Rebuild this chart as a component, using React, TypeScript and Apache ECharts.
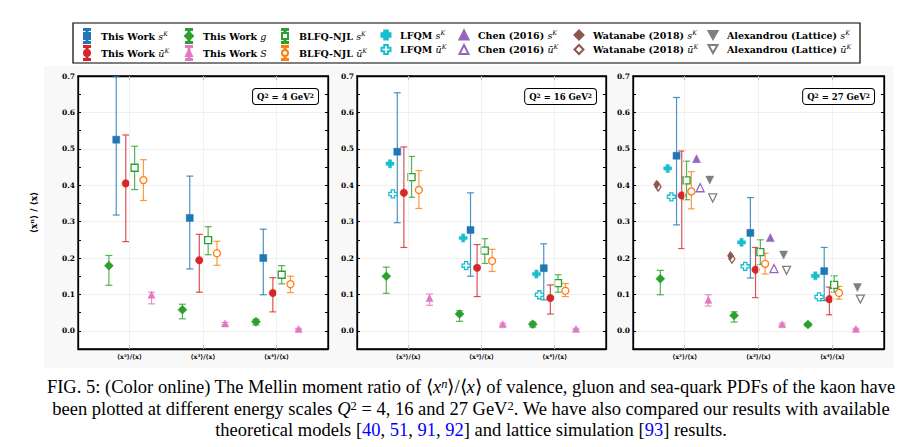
import React, { useEffect, useRef } from 'react';
import * as echarts from 'echarts';

// ---------- categories / labels ----------
const categories = ['⟨x²⟩/⟨x⟩', '⟨x³⟩/⟨x⟩', '⟨x⁴⟩/⟨x⟩'];
const panelQ2 = ['4', '16', '27'];
const yTickLabels = [0, 0.1, 0.2, 0.3, 0.4, 0.5, 0.6, 0.7];

// ---------- Panel 1 : Q^2 = 4 GeV^2 ----------
const p1_sK = [0.525, 0.31, 0.2];
const p1_sK_lo = [0.318, 0.17, 0.099];
const p1_sK_hi = [0.698, 0.425, 0.279];
const p1_uK = [0.405, 0.194, 0.104];
const p1_uK_lo = [0.245, 0.106, 0.052];
const p1_uK_hi = [0.538, 0.265, 0.146];
const p1_g = [0.179, 0.058, 0.025];
const p1_g_lo = [0.125, 0.033, 0.016];
const p1_g_hi = [0.207, 0.073, 0.032];
const p1_S = [0.099, 0.02, 0.005];
const p1_S_lo = [0.074, 0.016, 0.003];
const p1_S_hi = [0.106, 0.023, 0.007];
const p1_blfqS = [0.448, 0.249, 0.154];
const p1_blfqS_lo = [0.388, 0.209, 0.129];
const p1_blfqS_hi = [0.507, 0.286, 0.179];
const p1_blfqU = [0.414, 0.213, 0.128];
const p1_blfqU_lo = [0.358, 0.18, 0.105];
const p1_blfqU_hi = [0.47, 0.246, 0.15];

// ---------- Panel 2 : Q^2 = 16 GeV^2 ----------
const p2_sK = [0.492, 0.277, 0.172];
const p2_sK_lo = [0.297, 0.15, 0.085];
const p2_sK_hi = [0.654, 0.379, 0.239];
const p2_uK = [0.379, 0.173, 0.09];
const p2_uK_lo = [0.229, 0.094, 0.046];
const p2_uK_hi = [0.505, 0.237, 0.126];
const p2_g = [0.15, 0.046, 0.018];
const p2_g_lo = [0.103, 0.026, 0.01];
const p2_g_hi = [0.175, 0.055, 0.024];
const p2_S = [0.09, 0.018, 0.005];
const p2_S_lo = [0.07, 0.015, 0.003];
const p2_S_hi = [0.101, 0.021, 0.007];
const p2_blfqS = [0.422, 0.22, 0.131];
const p2_blfqS_lo = [0.367, 0.185, 0.106];
const p2_blfqS_hi = [0.479, 0.253, 0.154];
const p2_blfqU = [0.387, 0.192, 0.11];
const p2_blfqU_lo = [0.336, 0.163, 0.094];
const p2_blfqU_hi = [0.44, 0.224, 0.13];
const p2_lfqmS = [0.459, 0.255, 0.156];
const p2_lfqmU = [0.376, 0.179, 0.099];

// ---------- Panel 3 : Q^2 = 27 GeV^2 ----------
const p3_sK = [0.481, 0.269, 0.164];
const p3_sK_lo = [0.291, 0.145, 0.083];
const p3_sK_hi = [0.641, 0.366, 0.229];
const p3_uK = [0.372, 0.168, 0.087];
const p3_uK_lo = [0.226, 0.091, 0.044];
const p3_uK_hi = [0.494, 0.229, 0.12];
const p3_g = [0.143, 0.042, 0.017];
const p3_g_lo = [0.099, 0.024, 0.012];
const p3_g_hi = [0.166, 0.052, 0.021];
const p3_S = [0.085, 0.018, 0.005];
const p3_S_lo = [0.068, 0.015, 0.003];
const p3_S_hi = [0.099, 0.021, 0.007];
const p3_blfqS = [0.413, 0.216, 0.126];
const p3_blfqS_lo = [0.36, 0.182, 0.106];
const p3_blfqS_hi = [0.466, 0.25, 0.151];
const p3_blfqU = [0.383, 0.184, 0.104];
const p3_blfqU_lo = [0.335, 0.156, 0.087];
const p3_blfqU_hi = [0.437, 0.213, 0.122];
const p3_lfqmS = [0.446, 0.243, 0.151];
const p3_lfqmU = [0.368, 0.177, 0.093];
const p3_chenS = [0.473, 0.256];
const p3_chenU = [0.393, 0.171];
const p3_watS = [0.402, 0.206];
const p3_watU = [0.396, 0.198];
const p3_alexS = [0.414, 0.208, 0.119];
const p3_alexU = [0.365, 0.166, 0.087];

// ---------- series styling ----------
const PLUS = 'path://M3,0H7V3H10V7H7V10H3V7H0V3H3Z';
const TRI_DOWN = 'path://M0,0H10L5,9Z';
// legend icons with an error bar through the marker
const ICON_RECT = 'path://M1,0H7V1H1Z M3.5,1H4.5V4H3.5Z M1,4H7V10H1Z M3.5,10H4.5V13H3.5Z M1,13H7V14H1Z';
const ICON_CIRC = 'path://M1,0H7V1H1Z M3.5,1H4.5V4H3.5Z M1,7A3,3 0 1,0 7,7A3,3 0 1,0 1,7Z M3.5,10H4.5V13H3.5Z M1,13H7V14H1Z';
const ICON_DIAM = 'path://M1,0H7V1H1Z M3.5,1H4.5V3H3.5Z M4,3L8,7L4,11L0,7Z M3.5,11H4.5V13H3.5Z M1,13H7V14H1Z';
const ICON_TRI = 'path://M1,0H7V1H1Z M3.5,1H4.5V4H3.5Z M4,4L7,10H1Z M3.5,10H4.5V13H3.5Z M1,13H7V14H1Z';

type Spec = { name: string; color: string; symbol: string; size: number | number[]; hollow?: boolean; icon?: string };
const SPECS: Record<string, Spec> = {
  sK: { name: 'This Work sK', color: '#1f77b4', symbol: 'rect', size: 7, icon: ICON_RECT },
  uK: { name: 'This Work uK', color: '#d62728', symbol: 'circle', size: 7.5, icon: ICON_CIRC },
  g: { name: 'This Work g', color: '#2ca02c', symbol: 'diamond', size: 9, icon: ICON_DIAM },
  S: { name: 'This Work S', color: '#e377c2', symbol: 'triangle', size: 7, icon: ICON_TRI },
  blfqS: { name: 'BLFQ-NJL sK', color: '#2ca02c', symbol: 'rect', size: 7, hollow: true, icon: ICON_RECT },
  blfqU: { name: 'BLFQ-NJL uK', color: '#ff7f0e', symbol: 'circle', size: 7, hollow: true, icon: ICON_CIRC },
  lfqmS: { name: 'LFQM sK', color: '#17becf', symbol: PLUS, size: 8 },
  lfqmU: { name: 'LFQM uK', color: '#17becf', symbol: PLUS, size: 8, hollow: true },
  chenS: { name: 'Chen (2016) sK', color: '#9467bd', symbol: 'triangle', size: 8 },
  chenU: { name: 'Chen (2016) uK', color: '#9467bd', symbol: 'triangle', size: 8, hollow: true },
  watS: { name: 'Watanabe (2018) sK', color: '#8c564b', symbol: 'diamond', size: [6, 9] },
  watU: { name: 'Watanabe (2018) uK', color: '#8c564b', symbol: 'diamond', size: [6, 9], hollow: true },
  alexS: { name: 'Alexandrou (Lattice) sK', color: '#7f7f7f', symbol: TRI_DOWN, size: 8 },
  alexU: { name: 'Alexandrou (Lattice) uK', color: '#7f7f7f', symbol: TRI_DOWN, size: 8, hollow: true },
};

type Entry = { v: number[]; lo?: number[]; hi?: number[] };
const panels: Record<string, Entry>[] = [
  {
    g: { v: p1_g, lo: p1_g_lo, hi: p1_g_hi },
    sK: { v: p1_sK, lo: p1_sK_lo, hi: p1_sK_hi },
    uK: { v: p1_uK, lo: p1_uK_lo, hi: p1_uK_hi },
    blfqS: { v: p1_blfqS, lo: p1_blfqS_lo, hi: p1_blfqS_hi },
    blfqU: { v: p1_blfqU, lo: p1_blfqU_lo, hi: p1_blfqU_hi },
    S: { v: p1_S, lo: p1_S_lo, hi: p1_S_hi },
  },
  {
    g: { v: p2_g, lo: p2_g_lo, hi: p2_g_hi },
    lfqmS: { v: p2_lfqmS },
    lfqmU: { v: p2_lfqmU },
    sK: { v: p2_sK, lo: p2_sK_lo, hi: p2_sK_hi },
    uK: { v: p2_uK, lo: p2_uK_lo, hi: p2_uK_hi },
    blfqS: { v: p2_blfqS, lo: p2_blfqS_lo, hi: p2_blfqS_hi },
    blfqU: { v: p2_blfqU, lo: p2_blfqU_lo, hi: p2_blfqU_hi },
    S: { v: p2_S, lo: p2_S_lo, hi: p2_S_hi },
  },
  {
    watU: { v: p3_watU },
    watS: { v: p3_watS },
    g: { v: p3_g, lo: p3_g_lo, hi: p3_g_hi },
    lfqmS: { v: p3_lfqmS },
    lfqmU: { v: p3_lfqmU },
    sK: { v: p3_sK, lo: p3_sK_lo, hi: p3_sK_hi },
    uK: { v: p3_uK, lo: p3_uK_lo, hi: p3_uK_hi },
    blfqS: { v: p3_blfqS, lo: p3_blfqS_lo, hi: p3_blfqS_hi },
    blfqU: { v: p3_blfqU, lo: p3_blfqU_lo, hi: p3_blfqU_hi },
    chenS: { v: p3_chenS },
    chenU: { v: p3_chenU },
    S: { v: p3_S, lo: p3_S_lo, hi: p3_S_hi },
    alexS: { v: p3_alexS },
    alexU: { v: p3_alexU },
  },
];

// horizontal dodge of each series around its category (layout)
const dodge: Record<string, number>[] = [
  { g: -0.28, sK: -0.18, uK: -0.05, blfqS: 0.07, blfqU: 0.19, S: 0.3 },
  { g: -0.3, lfqmS: -0.25, lfqmU: -0.21, sK: -0.15, uK: -0.06, blfqS: 0.045, blfqU: 0.145, S: 0.29 },
  { watS: -0.38, watU: -0.36, g: -0.33, lfqmS: -0.23, lfqmU: -0.18, sK: -0.11, uK: -0.04, blfqS: 0.025, blfqU: 0.09, chenS: 0.16, chenU: 0.21, S: 0.32, alexS: 0.34, alexU: 0.38 },
];

const grids = [
  { left: 78, top: 76, width: 250, height: 273 },
  { left: 357, top: 76, width: 249, height: 273 },
  { left: 633, top: 76, width: 251, height: 273 },
];

const legendCols = [
  ['sK', 'uK'],
  ['g', 'S'],
  ['blfqS', 'blfqU'],
  ['lfqmS', 'lfqmU'],
  ['chenS', 'chenU'],
  ['watS', 'watU'],
  ['alexS', 'alexU'],
];
const legendX = [87, 188, 285, 385, 463, 578, 712];

const legendLabel = (name: string) => {
  const m = name.match(/^(.*) (sK|uK|g|S)$/);
  if (!m) return name;
  const base = `{b|${m[1]} }`;
  if (m[2] === 'sK') return base + '{i|s}{sup|K}';
  if (m[2] === 'uK') return base + '{i|ū}{sup|K}';
  return base + `{i|${m[2]}}`;
};

const SERIF = 'DejaVu Serif';
const CAPFONT = 'Liberation Serif';

function buildOption() {
  const xAxis: any[] = [];
  const yAxis: any[] = [];
  const series: any[] = [];
  const tickStyle = { color: '#000', width: 1 };

  grids.forEach((_, i) => {
    xAxis.push({
      type: 'value', gridIndex: i, min: -0.7, max: 2.7, position: 'bottom',
      axisLine: { show: true, onZero: false, lineStyle: { color: '#000', width: 1.3 } },
      axisTick: { show: true, inside: true, length: 4, customValues: [0, 1, 2], lineStyle: tickStyle },
      axisLabel: {
        show: true, customValues: [0, 1, 2], margin: 4,
        formatter: (v: number) => categories[Math.round(v)] ?? '',
        fontFamily: SERIF, fontWeight: 'bold', fontSize: 6.5, color: '#000',
      },
      splitLine: { show: false },
    });
    xAxis.push({
      type: 'value', gridIndex: i, min: -0.7, max: 2.7, position: 'top',
      axisLine: { show: true, onZero: false, lineStyle: { color: '#000', width: 1.3 } },
      axisTick: { show: true, inside: true, length: 4, customValues: [0, 1, 2], lineStyle: tickStyle },
      axisLabel: { show: false },
      splitLine: { show: false },
    });
    yAxis.push({
      type: 'value', gridIndex: i, min: -0.05, max: 0.7, interval: 0.05, position: 'left',
      name: i === 0 ? '⟨xⁿ⟩ / ⟨x⟩' : '',
      nameLocation: 'middle', nameGap: 40,
      nameTextStyle: { fontFamily: SERIF, fontWeight: 'bold', fontSize: 9, color: '#000' },
      axisLine: { show: true, onZero: false, lineStyle: { color: '#000', width: 1.3 } },
      axisTick: { show: true, inside: true, length: 3, lineStyle: tickStyle },
      axisLabel: {
        show: true, customValues: yTickLabels, margin: 3,
        formatter: (v: number) => v.toFixed(1),
        fontFamily: SERIF, fontWeight: 'bold', fontSize: 7.5, color: '#000',
      },
      splitLine: { show: true, lineStyle: { color: ['rgba(0,0,0,0)', '#ececec'], width: 0.8 } },
    });
    yAxis.push({
      type: 'value', gridIndex: i, min: -0.05, max: 0.7, interval: 0.05, position: 'right',
      axisLine: { show: true, onZero: false, lineStyle: { color: '#000', width: 1.3 } },
      axisTick: { show: true, inside: true, length: 3, lineStyle: tickStyle },
      axisLabel: { show: false },
      splitLine: { show: false },
    });

    // vertical faint grid lines at the categories
    series.push({
      type: 'scatter', xAxisIndex: 2 * i, yAxisIndex: 2 * i, data: [], silent: true,
      markLine: {
        silent: true, symbol: 'none', label: { show: false },
        lineStyle: { color: '#ececec', type: 'solid', width: 0.8 },
        data: [{ xAxis: 0 }, { xAxis: 1 }, { xAxis: 2 }],
      },
      z: 0,
    });

    const panel = panels[i];
    Object.keys(panel).forEach((key) => {
      const spec = SPECS[key];
      const entry = panel[key];
      const off = dodge[i][key];
      if (entry.lo && entry.hi) {
        const lo = entry.lo, hi = entry.hi;
        series.push({
          type: 'custom', name: spec.name + ' error', xAxisIndex: 2 * i, yAxisIndex: 2 * i,
          data: entry.v.map((_, c) => [c + off, lo[c], hi[c]]),
          encode: { x: 0, y: [1, 2] },
          silent: true, z: 2,
          renderItem: (_p: any, api: any) => {
            const x = api.value(0);
            const a = api.coord([x, api.value(1)]);
            const b = api.coord([x, api.value(2)]);
            const cap = 3.5;
            const style = { stroke: spec.color, lineWidth: 1.2, opacity: 0.8 };
            return {
              type: 'group',
              children: [
                { type: 'line', shape: { x1: a[0], y1: a[1], x2: b[0], y2: b[1] }, style },
                { type: 'line', shape: { x1: a[0] - cap, y1: a[1], x2: a[0] + cap, y2: a[1] }, style },
                { type: 'line', shape: { x1: b[0] - cap, y1: b[1], x2: b[0] + cap, y2: b[1] }, style },
              ],
            };
          },
        });
      }
      series.push({
        type: 'scatter', name: spec.name, xAxisIndex: 2 * i, yAxisIndex: 2 * i,
        data: entry.v.map((y, c) => [c + off, y]),
        symbol: spec.symbol, symbolSize: spec.size,
        itemStyle: spec.hollow
          ? { color: '#ffffff', borderColor: spec.color, borderWidth: 1.3, opacity: 1 }
          : { color: spec.color, borderColor: spec.color, borderWidth: 0.5, opacity: 1 },
        emphasis: { disabled: true },
        z: 3,
      });
    });
  });

  const fs = 9.5;
  const mkRich = (pad: number) => ({
    b: { fontFamily: SERIF, fontWeight: 'bold', fontSize: fs, lineHeight: 12, color: '#000', padding: [0, 0, 0, pad] },
    i: { fontFamily: SERIF, fontStyle: 'italic', fontSize: fs, lineHeight: 12, color: '#000' },
    sup: { fontFamily: SERIF, fontStyle: 'italic', fontSize: 6.3, lineHeight: 7, verticalAlign: 'top', color: '#000' },
  });

  const legend = legendCols.map((keys, i) => {
    const withBars = i < 3;
    const iw = withBars ? 8 : 9;
    const ih = withBars ? 14 : 9;
    return {
      data: keys.map((k) => (SPECS[k].icon ? { name: SPECS[k].name, icon: SPECS[k].icon } : { name: SPECS[k].name })),
      orient: 'vertical', left: legendX[i] - iw / 2, top: withBars ? 28 : 29,
      padding: 0,
      itemWidth: iw, itemHeight: ih, itemGap: withBars ? 1 : 3, selectedMode: false,
      formatter: legendLabel,
      textStyle: { rich: mkRich(14 - iw / 2 - 5) },
    };
  });

  const qRich = {
    b: { fontFamily: SERIF, fontWeight: 'bold', fontSize: 8.5, lineHeight: 10, fill: '#000' },
    s: { fontFamily: SERIF, fontWeight: 'bold', fontSize: 6, lineHeight: 6, verticalAlign: 'top', fill: '#000' },
  };
  const qRight = [318, 596, 874];

  const cfs = 18.5;
  const sfs = 12.5;
  const capRich = {
    r: { fontFamily: CAPFONT, fontSize: cfs, lineHeight: 19, fill: '#000' },
    i: { fontFamily: CAPFONT, fontStyle: 'italic', fontSize: cfs, lineHeight: 19, fill: '#000' },
    sup: { fontFamily: CAPFONT, fontSize: sfs, lineHeight: 11, verticalAlign: 'top', fill: '#000' },
    isup: { fontFamily: CAPFONT, fontStyle: 'italic', fontSize: sfs, lineHeight: 11, verticalAlign: 'top', fill: '#000' },
    blue: { fontFamily: CAPFONT, fontSize: cfs, lineHeight: 19, fill: '#0000ff' },
  };
  const capLines = [
    '{r|FIG. 5: (Color online) The Mellin moment ratio of ⟨}{i|x}{isup|n}{r|⟩/⟨}{i|x}{r|⟩ of valence, gluon and sea-quark PDFs of the kaon have}',
    '{r|been plotted at different energy scales }{i|Q}{sup|2}{r| = 4, 16 and 27 GeV}{sup|2}{r|. We have also compared our results with available}',
    '{r|theoretical models [}{blue|40}{r|, }{blue|51}{r|, }{blue|91}{r|, }{blue|92}{r|] and lattice simulation [}{blue|93}{r|] results.}',
  ];
  const capY = [387, 409, 430];

  const graphic: any[] = [
    { type: 'rect', z: -10, shape: { x: 44, y: 66, width: 850, height: 302 }, style: { fill: '#f8f8f8' }, silent: true },
    { type: 'rect', z: 0, shape: { x: 73, y: 23, width: 787, height: 40 }, style: { fill: '#fff', stroke: '#000', lineWidth: 1.2 }, silent: true },
    ...panelQ2.map((q, i) => ({
      type: 'text', z: 10, x: qRight[i], y: 89,
      style: {
        text: `{b|Q}{s|2}{b| = ${q} GeV}{s|2}`, rich: qRich,
        align: 'right', verticalAlign: 'top',
        backgroundColor: '#fff', borderColor: '#000', borderWidth: 1, borderRadius: 3,
        padding: [3, 4, 2, 4],
      },
    })),
    ...capLines.map((t, k) => ({
      type: 'text', z: 10, x: 471, y: capY[k],
      style: {
        text: t, rich: capRich, font: `${cfs}px "${CAPFONT}"`, fill: '#000',
        align: 'center', verticalAlign: 'middle',
      },
    })),
  ];

  return {
    animation: false,
    backgroundColor: '#ffffff',
    grid: grids.map((g) => ({ ...g, show: true, borderColor: '#000', borderWidth: 1.3, backgroundColor: '#ffffff', outerBoundsMode: 'none', containLabel: false })),
    xAxis, yAxis, series, legend, graphic,
    tooltip: { show: false },
  };
}

export default function App() {
  const ref = useRef<HTMLDivElement>(null);
  useEffect(() => {
    if (!ref.current) return;
    const chart = echarts.init(ref.current, null, { renderer: 'svg' });
    chart.setOption(buildOption() as any);
    return () => chart.dispose();
  }, []);
  return <div ref={ref} style={{ position: 'absolute', left: 0, top: 0, width: 917, height: 447 }} />;
}
